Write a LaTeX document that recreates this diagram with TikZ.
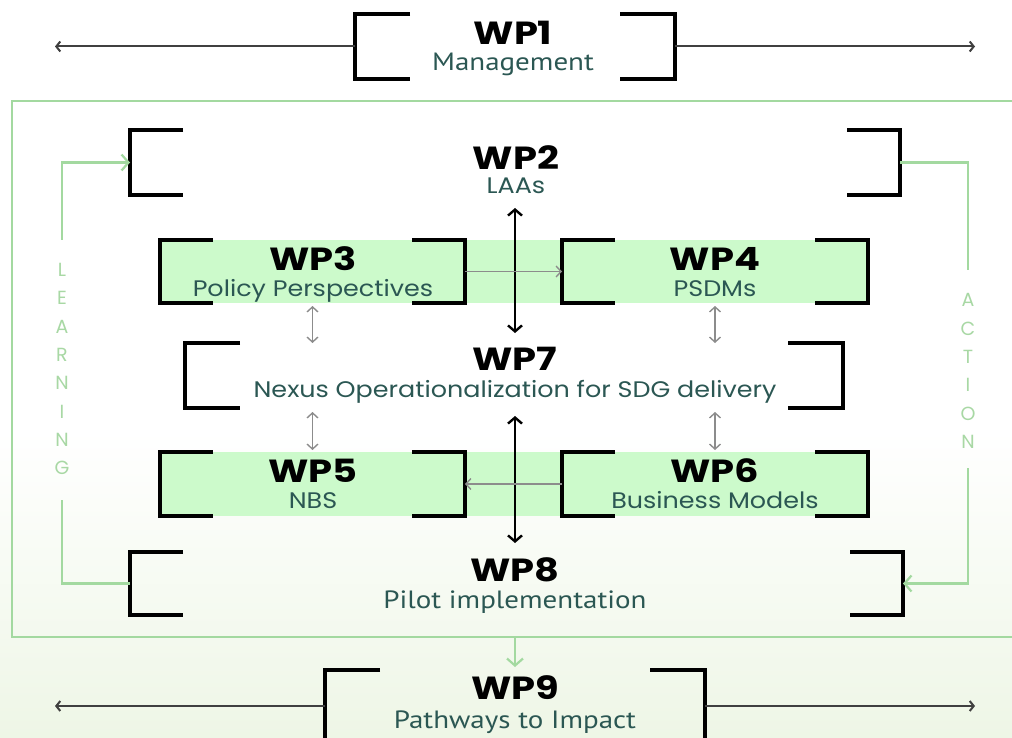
\documentclass[tikz,border=0pt]{standalone}
\usepackage{fontspec}
\setmainfont{Poppins}
\newfontfamily\wpfont[FakeStretch=1.2]{Poppins}
\newfontfamily\subfont[FakeStretch=1.13]{Poppins}
\newfontfamily\narrowfont[FakeStretch=1.16]{PT Sans}
\usetikzlibrary{arrows.meta}
\definecolor{frameg}{HTML}{A3D9A0}
\definecolor{bandg}{HTML}{CCFACB}
\definecolor{subc}{HTML}{2B5753}
\definecolor{lettc}{HTML}{A8D8A4}
\definecolor{arrg}{HTML}{8C8C8C}
\definecolor{bgg}{HTML}{EEF6E6}
\newcommand\wpbrackets[2]{%
  \draw[brk] ([xshift=#2]#1.north west) -- (#1.north west) -- (#1.south west) -- ([xshift=#2]#1.south west);
  \draw[brk] ([xshift=-#2]#1.north east) -- (#1.north east) -- (#1.south east) -- ([xshift=-#2]#1.south east);}
\begin{document}
\begin{tikzpicture}[x=1pt,y=-1pt,
  frm/.style={inner sep=0pt, outer sep=0pt, draw=none},
  brk/.style={line width=3.6pt, black, line cap=butt, line join=miter},
  wpt/.style={font=\wpfont\bfseries\fontsize{32}{32}\selectfont, inner sep=0pt},
  sub/.style={font=\subfont\fontsize{22.5}{22.5}\selectfont, text=subc, inner sep=0pt, anchor=base, text height=15pt},
  nsub/.style={font=\narrowfont\fontsize{25}{25}\selectfont, text=subc, inner sep=0pt, anchor=base, text height=16pt},
  blk/.style={line width=2.4pt, black, {Straight Barb[length=6pt,width=14pt]}-{Straight Barb[length=6pt,width=14pt]}},
  gry/.style={line width=1.4pt, arrg},
  gtip/.style={-{Straight Barb[length=5pt,width=11pt]}},
  gdbl/.style={{Straight Barb[length=5pt,width=11pt]}-{Straight Barb[length=5pt,width=11pt]}},
  grn/.style={line width=2.2pt, frameg},
  grntip/.style={-{Straight Barb[length=7pt,width=16pt]}},
  side/.style={font=\fontsize{19}{28.3}\selectfont, text=lettc, align=center, inner sep=0pt},
  thin/.style={line width=2pt, black!75}
]
\useasboundingbox (0,0) rectangle (1012,738);
\fill[white] (0,0) rectangle (1012,738);
\shade[top color=white, bottom color=bgg] (0,430) rectangle (1012,738);

% outer green frame
\draw[grn] (12,101) rectangle (1030,637);
\coordinate (fb) at (515,637);

% frames
\node[frm, minimum width=320, minimum height=65] (wp1) at (515,46.5) {};
\node[frm, minimum width=770, minimum height=65] (wp2) at (515,162.5) {};
\node[frm, minimum width=305, minimum height=63] (wp3) at (312.5,271.5) {};
\node[frm, minimum width=306, minimum height=63] (wp4) at (715,271.5) {};
\node[frm, minimum width=658, minimum height=65] (wp7) at (514,375.5) {};
\node[frm, minimum width=305, minimum height=64] (wp5) at (312.5,484) {};
\node[frm, minimum width=306, minimum height=64] (wp6) at (715,484) {};
\node[frm, minimum width=773, minimum height=63] (wp8) at (516.5,583.5) {};
\node[frm, minimum width=380, minimum height=72] (wp9) at (515,706) {};

% green bands
\fill[bandg] (wp3.north west) rectangle (wp4.south east);
\fill[bandg] (wp5.north west) rectangle (wp6.south east);

% brackets
\wpbrackets{wp1}{55pt}
\wpbrackets{wp2}{53pt}
\wpbrackets{wp3}{53pt}
\wpbrackets{wp4}{53pt}
\wpbrackets{wp7}{55pt}
\wpbrackets{wp5}{53pt}
\wpbrackets{wp6}{53pt}
\wpbrackets{wp8}{53pt}
\wpbrackets{wp9}{55pt}

% labels
\node[wpt] (wp1l) at (513,33) {WP1};
\node[nsub] (wp1s) at (513,71) {Management};
\node[wpt] (wp2l) at (516,158) {WP2};
\node[sub] (wp2s) at (516,194) {LAAs};
\node[wpt] (wp3l) at (313,259) {WP3};
\node[sub] (wp3s) at (313,296) {Policy Perspectives};
\node[wpt] (wp4l) at (715,259) {WP4};
\node[sub] (wp4s) at (715,296) {PSDMs};
\node[wpt] (wp7l) at (515,359) {WP7};
\node[sub] (wp7s) at (515,397) {Nexus Operationalization for SDG delivery};
\node[wpt] (wp5l) at (313,471) {WP5};
\node[sub] (wp5s) at (313,508) {NBS};
\node[wpt] (wp6l) at (715,471) {WP6};
\node[sub] (wp6s) at (715,508) {Business Models};
\node[wpt] (wp8l) at (515,570) {WP8};
\node[nsub] (wp8s) at (515,608) {Pilot implementation};
\node[wpt] (wp9l) at (515,688) {WP9};
\node[nsub] (wp9s) at (515,728) {Pathways to Impact};

% WP1 / WP9 side arrows
\coordinate (w1l) at (55,46.5);
\coordinate (w1r) at (975,46.5);
\coordinate (w9l) at (55,706);
\coordinate (w9r) at (975,706);
\draw[thin, {Straight Barb[length=4pt,width=10pt]}-] (w1l) -- (wp1.west);
\draw[thin, -{Straight Barb[length=4pt,width=10pt]}] (wp1.east) -- (w1r);
\draw[thin, {Straight Barb[length=4pt,width=10pt]}-] (w9l) -- (wp9.west);
\draw[thin, -{Straight Barb[length=4pt,width=10pt]}] (wp9.east) -- (w9r);

% central black arrows
\draw[blk, shorten <=13pt, shorten >=10pt] (wp2.south) -- (wp2.south |- wp7.north);
\draw[blk, shorten <=8pt, shorten >=9pt] (wp2.south |- wp7.south) -- (wp2.south |- wp8.north);

% grey arrows
\draw[gry, gtip] (wp3.east) -- (wp4.west);
\draw[gry, gtip] (wp6.west) -- (wp5.east);
\draw[gry, gdbl, shorten <=3pt, shorten >=0pt] (wp3.south) -- (wp3.south |- wp7.north);
\draw[gry, gdbl, shorten <=3pt, shorten >=0pt] (wp4.south) -- (wp4.south |- wp7.north);
\draw[gry, gdbl, shorten <=4pt, shorten >=2pt] (wp3.south |- wp7.south) -- (wp5.north);
\draw[gry, gdbl, shorten <=4pt, shorten >=2pt] (wp4.south |- wp7.south) -- (wp6.north);

% green arrow to WP9
\draw[grn, grntip, shorten >=3pt] (fb) -- (wp9.north);

% LEARNING loop
\coordinate (lb) at (62,500);
\coordinate (lt) at (62,240);
\draw[grn] (wp8.west) -| (lb);
\draw[grn, grntip] (lt) |- (wp2.west);
\node[side] (learn) at (62,369) {L\\E\\A\\R\\N\\I\\N\\G};

% ACTION loop
\coordinate (at) at (968,270);
\coordinate (ab) at (968,468);
\draw[grn] (wp2.east) -| (at);
\draw[grn, grntip] (ab) |- (wp8.east);
\node[side] (action) at (968,371) {A\\C\\T\\I\\O\\N};
\end{tikzpicture}
\end{document}
